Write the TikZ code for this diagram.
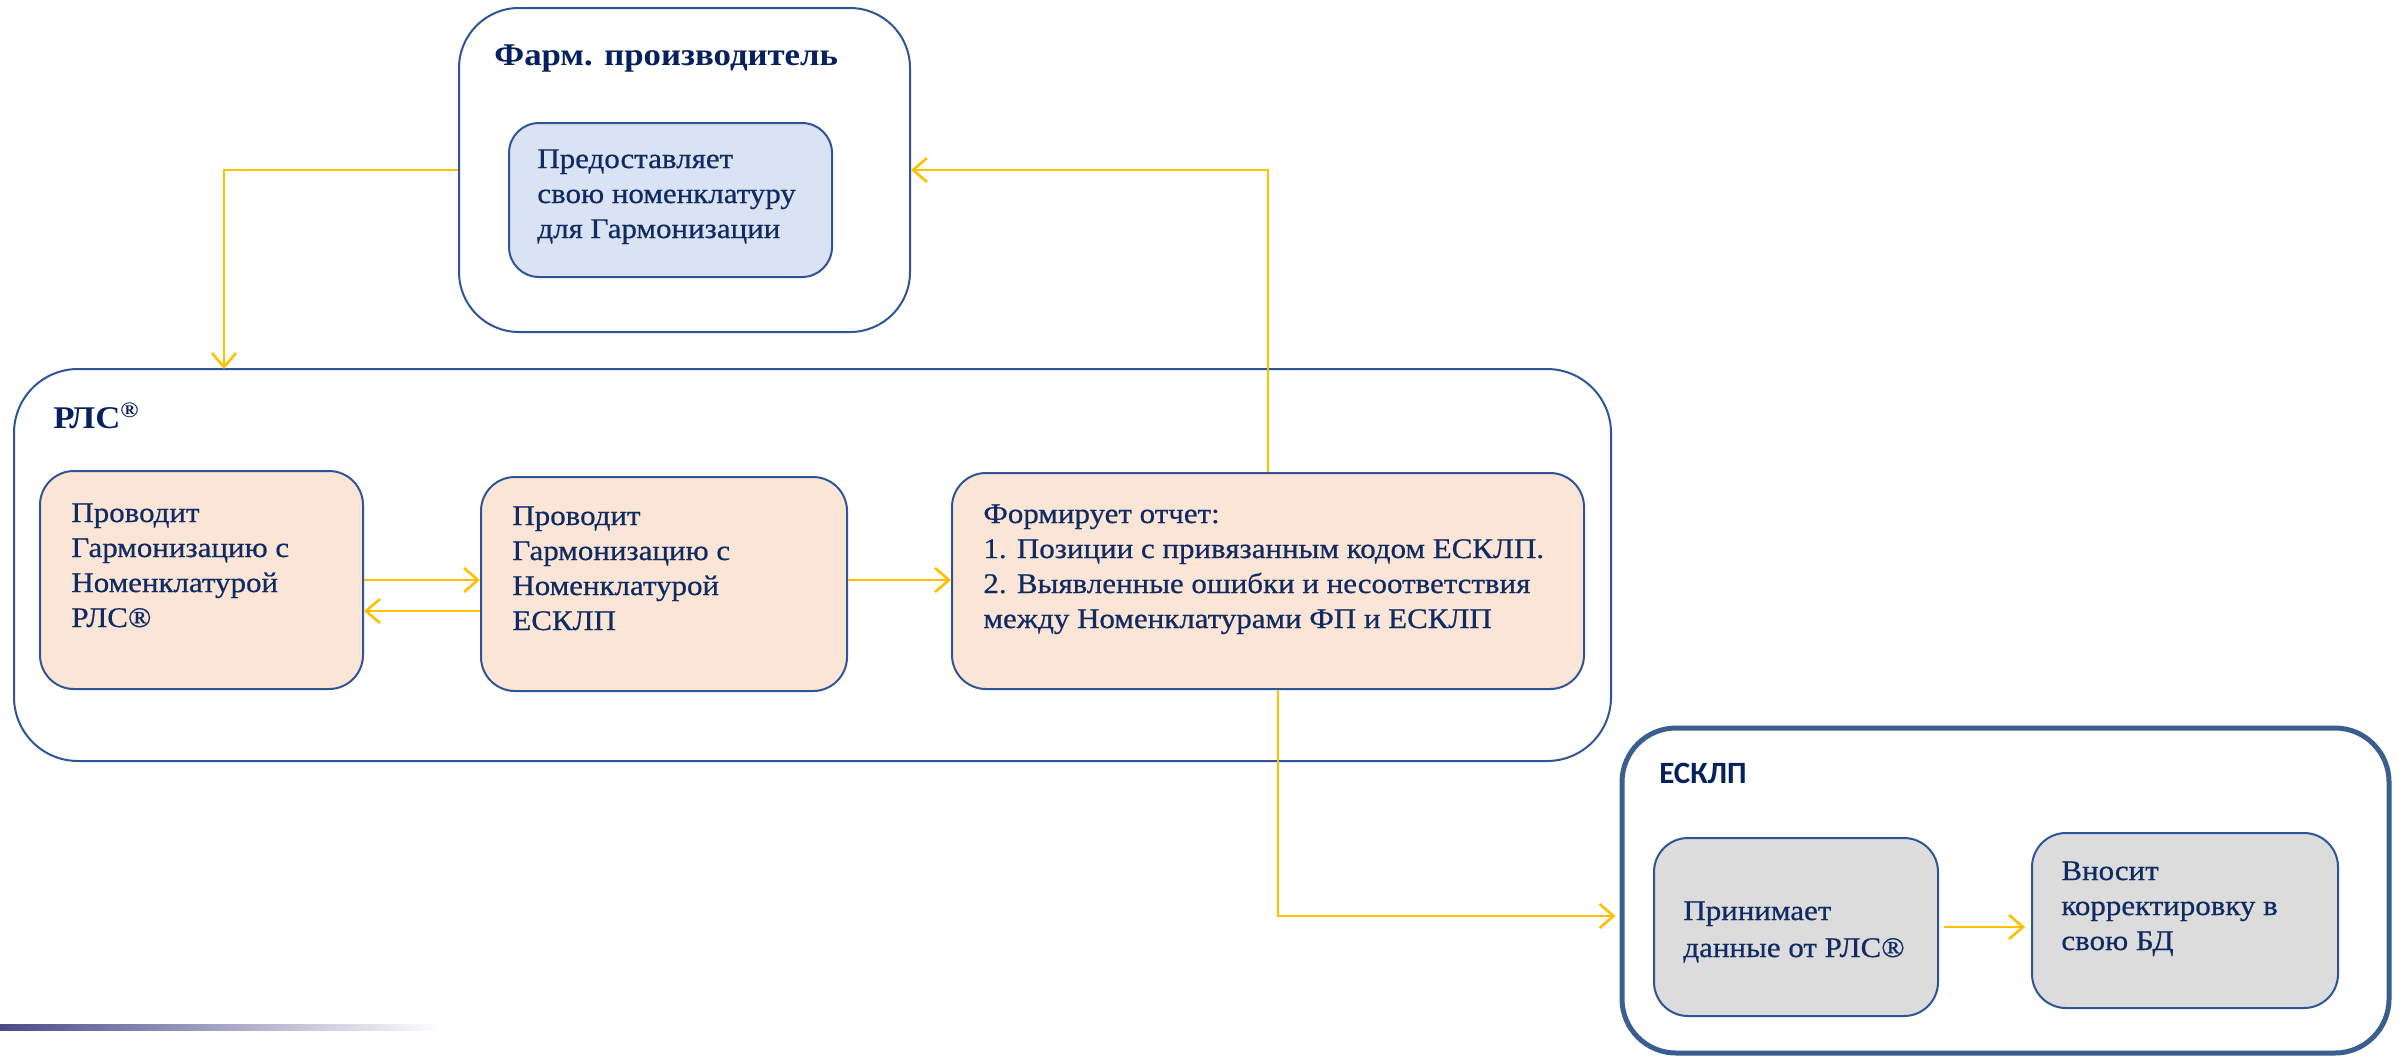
\documentclass[tikz,border=0pt]{standalone}
\usepackage{fontspec}
\setmainfont{Liberation Serif}[FakeStretch=1.1]
\newfontfamily\bodyfont{Liberation Serif}[FakeStretch=1.09, FakeBold=0.6]
\newfontfamily\eskfont{Carlito}
\usetikzlibrary{arrows.meta}
\definecolor{txt}{HTML}{102A62}
\definecolor{ttl}{HTML}{06215E}
\definecolor{bord}{HTML}{2F5597}
\definecolor{eskbord}{HTML}{3A5F8F}
\definecolor{bluefill}{HTML}{DAE3F3}
\definecolor{peach}{HTML}{FBE5D6}
\definecolor{greyfill}{HTML}{DCDCDC}
\definecolor{arrowc}{HTML}{FFC000}
\definecolor{barc}{HTML}{4A4A8A}
\newcommand{\mlines}[1]{\begin{tabular}[t]{@{}l@{}}#1\end{tabular}}
\begin{document}
\begin{tikzpicture}[x=0.5pt,y=-0.5pt,
  frame/.style={draw=bord, line width=1pt, fill=white, rectangle, inner sep=0pt},
  box/.style={draw=bord, line width=1pt, rectangle, rounded corners=17pt, inner sep=0pt},
  bodytxt/.style={anchor=base west, inner sep=0pt, text=txt, font=\bodyfont\fontsize{14.2}{17.5}\selectfont},
  titletxt/.style={anchor=base west, inner sep=0pt, text=ttl, font=\fontsize{15.8}{18}\selectfont\bfseries},
  arr/.style={draw=arrowc, line width=1.3pt, -{Straight Barb[length=7pt,width=12pt]}}
]
\useasboundingbox (0,0) rectangle (2402,1055);
\fill[white] (0,0) rectangle (2402,1055);

% Farm producer
\node[frame, rounded corners=30pt, minimum width=225.5pt, minimum height=162pt] (farm) at (684.5,170) {};
\node[box, fill=bluefill, rounded corners=15pt, minimum width=161.5pt, minimum height=77pt] (farmin) at (670.5,200) {};
\node[titletxt] (farmt) at (494,65) {Фарм. производитель};
\node[bodytxt] (farmintxt) at (537,168) {\mlines{Предоставляет\\свою номенклатуру\\для Гармонизации}};

% RLS
\node[frame, rounded corners=32pt, minimum width=798.5pt, minimum height=196pt] (rls) at (812.5,565) {};
\node[titletxt] (rlst) at (53,428) {РЛС\textsuperscript{®}};
\node[box, fill=peach, minimum width=161.5pt, minimum height=109pt] (b1) at (201.5,580) {};
\node[bodytxt] (b1t) at (71,522) {\mlines{Проводит\\Гармонизацию с\\Номенклатурой\\РЛС®}};
\node[box, fill=peach, minimum width=183pt, minimum height=107pt] (b2) at (664,584) {};
\node[bodytxt] (b2t) at (512,525) {\mlines{Проводит\\Гармонизацию с\\Номенклатурой\\ЕСКЛП}};
\node[box, fill=peach, minimum width=316pt, minimum height=108pt] (b3) at (1268,581) {};
\node[bodytxt] (b3t) at (983,523) {\mlines{Формирует отчет:\\1. Позиции с привязанным кодом ЕСКЛП.\\2. Выявленные ошибки и несоответствия\\между Номенклатурами ФП и ЕСКЛП}};

% ESKLP
\node[draw=eskbord, line width=2.5pt, fill=white, rectangle, inner sep=0pt, rounded corners=27pt, minimum width=383.5pt, minimum height=162.5pt] (esk) at (2005.5,890.5) {};
\node[anchor=base west, inner sep=0pt, text=ttl, font=\eskfont\fontsize{15.5}{18}\selectfont\bfseries] (eskt) at (1659,783) {ЕСКЛП};
\node[box, fill=greyfill, minimum width=142pt, minimum height=89pt] (ea) at (1796,927) {};
\node[bodytxt, font=\bodyfont\fontsize{14.2}{18.5}\selectfont] (eat) at (1683,920) {\mlines{Принимает\\данные от РЛС®}};
\node[box, fill=greyfill, minimum width=153pt, minimum height=87.5pt] (eb) at (2185,920.5) {};
\node[bodytxt] (ebt) at (2061,880) {\mlines{Вносит\\корректировку в\\свою БД}};

% connectors
\coordinate (back) at ([yshift=-15.5pt]b1.east);
\coordinate (rlsin) at (224,369);
\draw[arr] (b1.east) -- (b1.east -| b2.west);
\draw[arr] (back -| b2.west) -- (back);
\draw[arr] (b1.east -| b2.east) -- (b1.east -| b3.west);
\draw[arr] (b3.north) |- (farm.east);
\draw[arr] (farm.west) -| (rlsin);
\draw[arr] ([xshift=5pt]b3.south) |- ([yshift=-12.75pt,xshift=-2pt]esk.west);
\draw[arr, shorten <=2.5pt, shorten >=3pt] (ea.east) -- (ea.east -| eb.west);

% decorative gradient bar
\shade[left color=barc, right color=white] (0,1024) rectangle (441,1030);
\end{tikzpicture}
\end{document}
